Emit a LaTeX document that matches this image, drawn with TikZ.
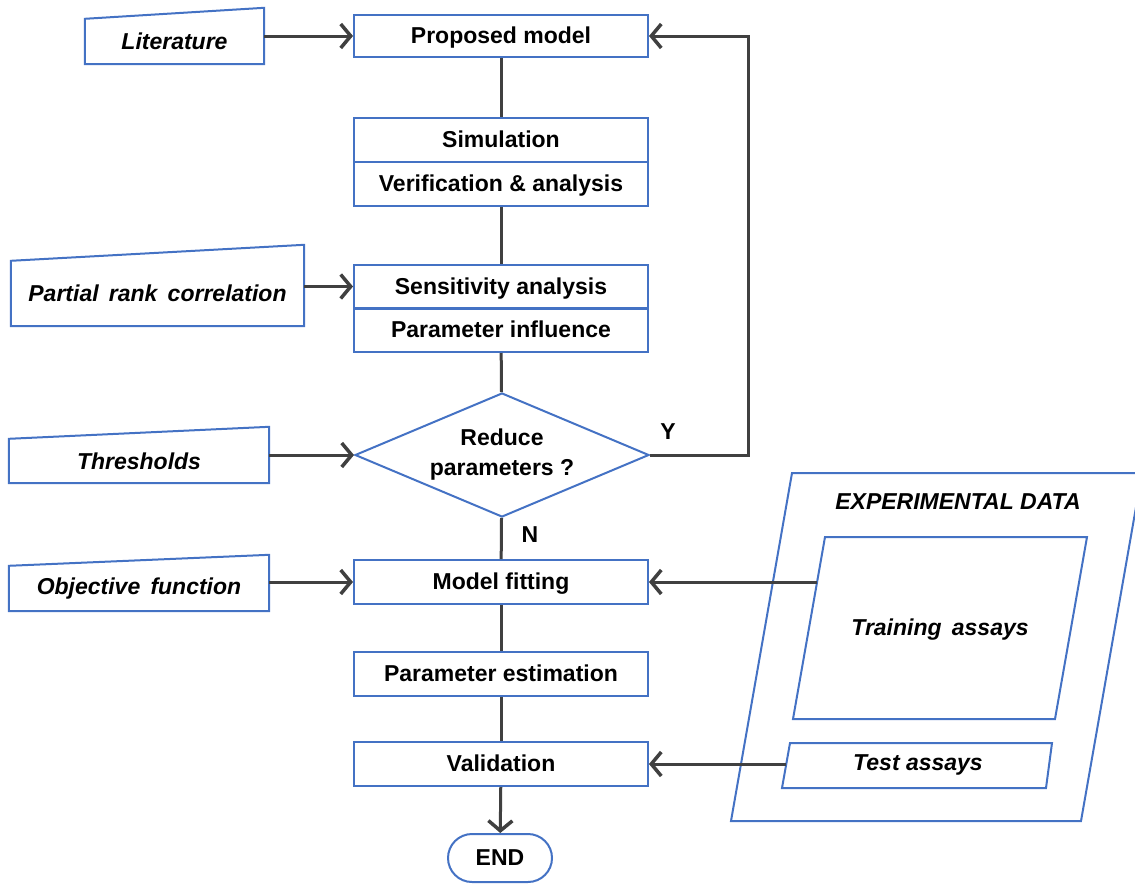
\documentclass[tikz,border=0pt]{standalone}
\usepackage{fontspec}
\setmainfont{Liberation Sans}
\usetikzlibrary{arrows.meta,shapes.geometric}
\definecolor{boxblue}{HTML}{4472C4}
\definecolor{arrowgray}{HTML}{404040}
\begin{document}
\begin{tikzpicture}[x=1pt,y=-1pt,font=\fontsize{23}{27}\selectfont\bfseries,
	box/.style={draw=boxblue,line width=2pt,minimum width=294pt,minimum height=44pt,inner sep=0pt,text depth=0.25ex},
	decision/.style={diamond,draw=boxblue,line width=2pt,minimum width=294pt,minimum height=124pt,aspect=2.4,inner sep=0pt,align=center,font=\fontsize{23}{30}\selectfont\bfseries},
	inlabel/.style={font=\fontsize{23}{27}\selectfont\bfseries\itshape,inner sep=0pt},
	inshape/.style={draw=boxblue,line width=2pt},
	link/.style={draw=arrowgray,line width=3pt},
	arr/.style={link,-{Straight Barb[length=10pt,width=24pt,line width=3.5pt]}}]
	\useasboundingbox (0,0) rectangle (1135,884);
	% main column
	\node[box,minimum height=42pt] (model) at (501,36) {Proposed model};
	\node[box] (sim) at (501,140) {Simulation};
	\node[box] (verif) at (501,184) {Verification \& analysis};
	\node[box] (sens) at (501,286.5) {Sensitivity analysis};
	\node[box] (infl) at (501,330) {Parameter influence};
	\node[decision] (reduce) at (502,455) {Reduce\\parameters ?};
	\node[box] (fit) at (501,582) {Model fitting};
	\node[box] (est) at (501,674) {Parameter estimation};
	\node[box] (valid) at (501,764) {Validation};
	\node[draw=boxblue,line width=2pt,rounded corners=24pt,minimum width=104pt,minimum height=48pt] (stop) at (500,858) {END};
	\node (ylab) at (668,432) {Y};
	\node (nlab) at (530,535) {N};
	% inputs
	\node[inlabel,minimum width=179pt,minimum height=45pt] (lit) at (174.5,41.5) {Literature};
	\draw[inshape] (lit.south west) -- (lit.south east) -- ([yshift=11pt]lit.north east) -- (lit.north west) -- cycle;
	\node[inlabel,minimum width=293pt,minimum height=65pt] (prc) at (157.5,293.5) {Partial\, rank\, correlation};
	\draw[inshape] (prc.south west) -- (prc.south east) -- ([yshift=16pt]prc.north east) -- (prc.north west) -- cycle;
	\node[inlabel,minimum width=260pt,minimum height=44pt] (thr) at (139,461) {Thresholds};
	\draw[inshape] (thr.south west) -- (thr.south east) -- ([yshift=12pt]thr.north east) -- (thr.north west) -- cycle;
	\node[inlabel,minimum width=260pt,minimum height=45pt] (obj) at (139,588.5) {Objective\, function};
	\draw[inshape] (obj.south west) -- (obj.south east) -- ([yshift=11pt]obj.north east) -- (obj.north west) -- cycle;
	% experimental data
	\draw[inshape] (792,473) -- (1142,473) -- (1081,821) -- (731,821) -- cycle;
	\draw[inshape] (825,537) -- (1087,537) -- (1055,719) -- (793,719) -- cycle;
	\draw[inshape] (790,743) -- (1052,743) -- (1046,788) -- (782,788) -- cycle;
	\node[inlabel] (expdata) at (958,502) {EXPERIMENTAL DATA};
	\node[inlabel] (train) at (940,630) {Training\, assays};
	\node[inlabel] (test) at (918,765) {Test assays};
	\coordinate (trainedge) at (817,582);
	\coordinate (testedge) at (786,764);
	\coordinate (ycorner) at (748,36);
	% connectors
	\draw[link] (model) -- (sim);
	\draw[link] (verif) -- (sens);
	\draw[link] (infl) -- (reduce);
	\draw[link] (reduce) -- (fit);
	\draw[link] (fit) -- (est);
	\draw[link] (est) -- (valid);
	\draw[arr] (valid) -- (stop);
	\draw[arr] (reduce.east) -| (ycorner) -- (model.east);
	\draw[arr] (lit.east |- model.west) -- (model.west);
	\draw[arr] (prc.east |- sens.west) -- (sens.west);
	\draw[arr] (thr.east |- reduce.west) -- (reduce.west);
	\draw[arr] (obj.east |- fit.west) -- (fit.west);
	\draw[arr] (trainedge) -- (fit.east);
	\draw[arr] (testedge) -- (valid.east);
\end{tikzpicture}
\end{document}
